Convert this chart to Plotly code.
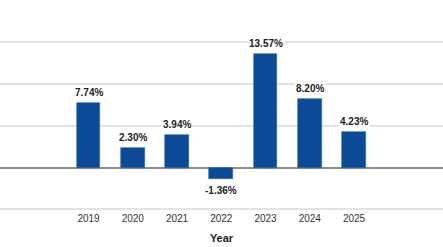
import plotly.graph_objects as go

years = [2019, 2020, 2021, 2022, 2023, 2024, 2025]
values = [7.74, 2.30, 3.94, -1.36, 13.57, 8.20, 4.23]
labels = ["7.74%", "2.30%", "3.94%", "-1.36%", "13.57%", "8.20%", "4.23%"]

fig = go.Figure()
fig.add_trace(go.Bar(
    x=years, y=values, width=0.54,
    marker=dict(color="#0b4a97", line=dict(color="#2a66ad", width=0.6)),
    hoverinfo="skip",
))

for x, v, t in zip(years, values, labels):
    fig.add_annotation(
        x=x, y=v, text="<b>" + t + "</b>", showarrow=False,
        yanchor="bottom" if v >= 0 else "top",
        yshift=3 if v >= 0 else -4,
        bgcolor="white", borderpad=1,
        font=dict(family="Liberation Sans, Arial", size=10, color="#222"),
    )

fig.update_layout(
    width=443, height=247,
    margin=dict(l=0, r=0, t=0, b=36),
    plot_bgcolor="white", paper_bgcolor="white",
    showlegend=False,
    bargap=0,
    xaxis=dict(
        range=[2017, 2027.01],
        tickmode="array", tickvals=years, ticktext=[str(y) for y in years],
        showgrid=False, zeroline=False, showline=False,
        ticks="", ticklen=0,
        tickfont=dict(family="Liberation Sans, Arial", size=10, color="#333"),
        title=dict(text="<b>Year</b>", standoff=11,
                   font=dict(family="Liberation Sans, Arial", size=11, color="#222")),
    ),
    yaxis=dict(
        range=[-5.2, 20.05],
        tickvals=[-5, 0, 5, 10, 15, 20],
        showticklabels=False,
        showgrid=True, gridcolor="#e3e3e3", gridwidth=1.5,
        zeroline=True, zerolinecolor="#8c8c8c", zerolinewidth=1.5,
        showline=False,
    ),
)

fig.write_html("out.html")
